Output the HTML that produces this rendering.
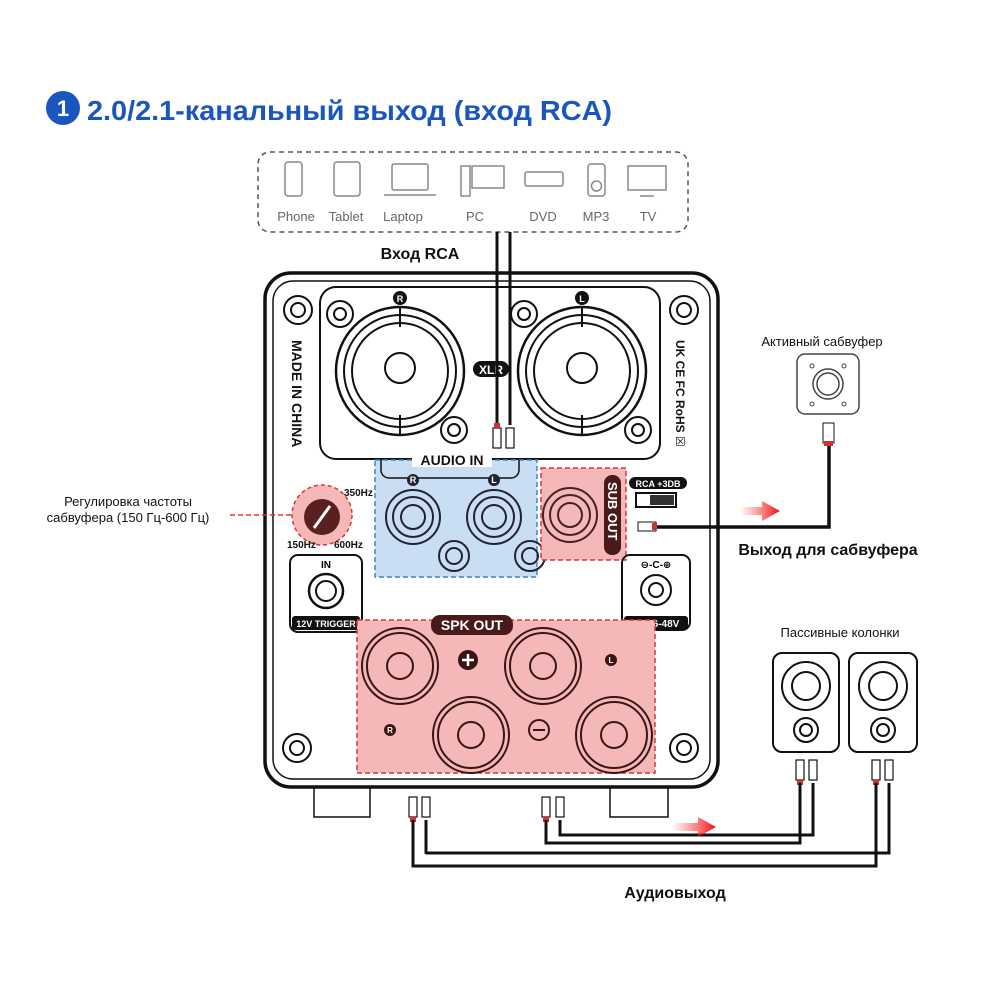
<!DOCTYPE html>
<html><head><meta charset="utf-8"><style>
html,body{margin:0;padding:0;background:#fff;}
svg{display:block;font-family:"Liberation Sans","DejaVu Sans",sans-serif;}
</style></head><body>
<svg width="1000" height="1000" viewBox="0 0 1000 1000" xmlns="http://www.w3.org/2000/svg">
<!-- title -->
<circle cx="63" cy="108" r="17" fill="#1a55c0"/>
<text x="63" y="116" font-size="22" font-weight="bold" fill="#fff" text-anchor="middle">1</text>
<text x="87" y="120" font-size="28" font-weight="bold" fill="#1a55c0" textLength="525" lengthAdjust="spacingAndGlyphs">2.0/2.1-канальный выход (вход RCA)</text>

<!-- device box -->
<rect x="258" y="152" width="430" height="80" rx="12" fill="none" stroke="#555" stroke-width="1.5" stroke-dasharray="5,4"/>
<g fill="none" stroke="#888" stroke-width="1.5">
<rect x="285" y="162" width="17" height="34" rx="3"/>
<rect x="334" y="162" width="26" height="34" rx="3"/>
<rect x="392" y="164" width="36" height="26" rx="2"/><path d="M384 195h52"/>
<rect x="461" y="166" width="9" height="30"/><rect x="472" y="166" width="32" height="22"/>
<rect x="525" y="172" width="38" height="14" rx="2"/>
<rect x="588" y="164" width="17" height="32" rx="3"/><circle cx="596.5" cy="186" r="5"/>
<rect x="628" y="166" width="38" height="24"/><path d="M640 196h14"/>
</g>
<g font-size="13" fill="#666" text-anchor="middle">
<text x="296" y="221">Phone</text><text x="346" y="221">Tablet</text><text x="403" y="221">Laptop</text>
<text x="475" y="221">PC</text><text x="543" y="221">DVD</text><text x="596" y="221">MP3</text><text x="648" y="221">TV</text>
</g>
<text x="420" y="259" font-size="16" font-weight="bold" fill="#111" text-anchor="middle">Вход RCA</text>

<!-- main box -->
<rect x="265" y="273" width="453" height="514" rx="26" fill="#fff" stroke="#111" stroke-width="3.5"/>
<rect x="273" y="281" width="437" height="498" rx="20" fill="none" stroke="#111" stroke-width="1.5"/>
<!-- feet -->
<path d="M314 787v30h56v-30M610 787v30h58v-30" fill="none" stroke="#111" stroke-width="1.5"/>
<!-- screws -->
<g fill="none" stroke="#111" stroke-width="2">
<circle cx="298" cy="310" r="14"/><circle cx="298" cy="310" r="7"/>
<circle cx="684" cy="310" r="14"/><circle cx="684" cy="310" r="7"/>
<circle cx="297" cy="748" r="14"/><circle cx="297" cy="748" r="7"/>
<circle cx="684" cy="748" r="14"/><circle cx="684" cy="748" r="7"/>
</g>
<!-- XLR panel -->
<rect x="320" y="287" width="340" height="172" rx="16" fill="none" stroke="#111" stroke-width="2"/>
<g fill="none" stroke="#111" stroke-width="2">
<circle cx="340" cy="314" r="13"/><circle cx="340" cy="314" r="6"/>
<circle cx="454" cy="430" r="13"/><circle cx="454" cy="430" r="6"/>
<circle cx="524" cy="314" r="13"/><circle cx="524" cy="314" r="6"/>
<circle cx="638" cy="430" r="13"/><circle cx="638" cy="430" r="6"/>
<circle cx="400" cy="371" r="64" stroke-width="2.5"/><circle cx="400" cy="371" r="56"/><circle cx="400" cy="371" r="48"/>
<circle cx="582" cy="371" r="64" stroke-width="2.5"/><circle cx="582" cy="371" r="56"/><circle cx="582" cy="371" r="48"/>
<path d="M400 307v20M400 415v20M582 307v20M582 415v20"/>
<circle cx="400" cy="368" r="15"/><circle cx="582" cy="368" r="15"/>
</g>
<g fill="#111" font-weight="bold" text-anchor="middle">
<circle cx="400" cy="298" r="7"/><circle cx="582" cy="298" r="7"/>
<text x="400" y="302" font-size="9" fill="#fff">R</text><text x="582" y="302" font-size="9" fill="#fff">L</text>
<rect x="473" y="361" width="36" height="16" rx="8"/><text x="491" y="374" font-size="12" fill="#fff">XLR</text>
</g>
<text transform="translate(292,340) rotate(90)" font-size="14" font-weight="bold" fill="#111">MADE IN CHINA</text>
<text transform="translate(676,340) rotate(90)" font-size="12" font-weight="bold" fill="#111">UK CE FC RoHS ☒</text>

<!-- AUDIO IN blue -->
<rect x="375" y="460" width="162" height="117" fill="#c9def2" stroke="#3a8ad0" stroke-width="1.5" stroke-dasharray="5,3"/>
<path d="M381 460v10a8 8 0 0 0 8 8h122a8 8 0 0 0 8-8v-10" fill="none" stroke="#111" stroke-width="1.5"/>
<rect x="412" y="451" width="80" height="16" fill="#fff"/>
<text x="452" y="465" font-size="14" font-weight="bold" fill="#111" text-anchor="middle">AUDIO IN</text>
<g fill="none" stroke="#223" stroke-width="2">
<circle cx="413" cy="517" r="27"/><circle cx="413" cy="517" r="20"/><circle cx="413" cy="517" r="12"/>
<circle cx="494" cy="517" r="27"/><circle cx="494" cy="517" r="20"/><circle cx="494" cy="517" r="12"/>
<circle cx="454" cy="556" r="15"/><circle cx="454" cy="556" r="8"/>
<circle cx="530" cy="556" r="15"/><circle cx="530" cy="556" r="8"/>
</g>
<g fill="#223" font-weight="bold" font-size="9" text-anchor="middle">
<circle cx="413" cy="480" r="6"/><circle cx="494" cy="480" r="6"/>
<text x="413" y="483" fill="#fff">R</text><text x="494" y="483" fill="#fff">L</text>
</g>
<!-- SUB OUT -->
<rect x="541" y="468" width="85" height="92" fill="#f5b8b8" stroke="#d33" stroke-width="1.5" stroke-dasharray="5,3"/>
<g fill="none" stroke="#422" stroke-width="2">
<circle cx="570" cy="515" r="27"/><circle cx="570" cy="515" r="20"/><circle cx="570" cy="515" r="12"/>
</g>
<rect x="604" y="475" width="17" height="80" rx="8" fill="#4a1a1a"/>
<text transform="translate(608,482) rotate(90)" font-size="13" font-weight="bold" fill="#fff">SUB OUT</text>
<rect x="629" y="477" width="58" height="12" rx="6" fill="#111"/>
<text x="658" y="487" font-size="9" font-weight="bold" fill="#fff" text-anchor="middle">RCA +3DB</text>
<rect x="636" y="493" width="40" height="14" fill="none" stroke="#111" stroke-width="2"/><rect x="650" y="495" width="24" height="10" fill="#333"/>
<!-- sub cable -->
<path d="M655 527H829V440" fill="none" stroke="#111" stroke-width="3.5"/>
<rect x="638" y="522" width="18" height="9" fill="#fff" stroke="#111"/><rect x="652" y="523" width="5" height="7" fill="#c33"/>
<rect x="823" y="423" width="11" height="20" fill="#fff" stroke="#111"/><rect x="824" y="441" width="9" height="5" fill="#c33"/>
<!-- knob -->
<circle cx="322" cy="515" r="30" fill="#f5b8b8" stroke="#d33" stroke-width="1.5" stroke-dasharray="4,3"/>
<circle cx="322" cy="517" r="18" fill="#5a2020"/><path d="M314 528l16-22" stroke="#fff" stroke-width="3"/>
<path d="M230 515H292" stroke="#d33" stroke-width="1.5" stroke-dasharray="5,3"/>
<text x="344" y="496" font-size="10" font-weight="bold" fill="#111">350Hz</text>
<text x="287" y="548" font-size="10" font-weight="bold" fill="#111">150Hz</text>
<text x="334" y="548" font-size="10" font-weight="bold" fill="#111">600Hz</text>
<text x="128" y="506" font-size="13" fill="#111" text-anchor="middle">Регулировка частоты</text>
<text x="128" y="522" font-size="13" fill="#111" text-anchor="middle">сабвуфера (150 Гц-600 Гц)</text>
<!-- 12V trigger -->
<rect x="290" y="555" width="72" height="77" rx="8" fill="none" stroke="#111" stroke-width="2"/>
<text x="326" y="568" font-size="10" font-weight="bold" text-anchor="middle">IN</text>
<circle cx="326" cy="591" r="17" fill="none" stroke="#111" stroke-width="2.5"/><circle cx="326" cy="591" r="10" fill="none" stroke="#111" stroke-width="2"/>
<rect x="292" y="616" width="68" height="14" rx="3" fill="#111"/>
<text x="326" y="627" font-size="9" font-weight="bold" fill="#fff" text-anchor="middle">12V TRIGGER</text>
<!-- DC -->
<rect x="622" y="555" width="68" height="75" rx="8" fill="none" stroke="#111" stroke-width="2"/>
<text x="656" y="568" font-size="10" font-weight="bold" text-anchor="middle">⊖-C-⊕</text>
<circle cx="656" cy="590" r="15" fill="none" stroke="#111" stroke-width="2"/><circle cx="656" cy="590" r="7" fill="none" stroke="#111" stroke-width="2"/>
<rect x="624" y="616" width="64" height="14" rx="3" fill="#111"/>
<text x="656" y="627" font-size="10" font-weight="bold" fill="#fff" text-anchor="middle">DC36-48V</text>
<!-- SPK OUT -->
<rect x="357" y="620" width="298" height="153" fill="#f5b8b8" stroke="#d33" stroke-width="1.5" stroke-dasharray="5,3"/>
<rect x="431" y="615" width="82" height="20" rx="9" fill="#4a1a1a"/>
<text x="472" y="630" font-size="14" font-weight="bold" fill="#fff" text-anchor="middle">SPK OUT</text>
<g fill="none" stroke="#3a1515" stroke-width="2">
<circle cx="400" cy="666" r="38"/><circle cx="400" cy="666" r="33"/><circle cx="400" cy="666" r="13"/>
<circle cx="543" cy="666" r="38"/><circle cx="543" cy="666" r="33"/><circle cx="543" cy="666" r="13"/>
<circle cx="471" cy="735" r="38"/><circle cx="471" cy="735" r="33"/><circle cx="471" cy="735" r="13"/>
<circle cx="614" cy="735" r="38"/><circle cx="614" cy="735" r="33"/><circle cx="614" cy="735" r="13"/>
<circle cx="539" cy="730" r="10"/><path d="M533 730h12"/>
</g>
<circle cx="468" cy="660" r="10" fill="#3a1515"/><path d="M462 660h12M468 654v12" stroke="#fff" stroke-width="2.5"/>
<circle cx="611" cy="660" r="6" fill="#3a1515"/><text x="611" y="663" font-size="8" fill="#fff" font-weight="bold" text-anchor="middle">L</text>
<circle cx="390" cy="730" r="6" fill="#3a1515"/><text x="390" y="733" font-size="8" fill="#fff" font-weight="bold" text-anchor="middle">R</text>

<!-- input RCA cables -->
<path d="M497 232V425M510 232V425" stroke="#111" stroke-width="3"/>
<g fill="#fff" stroke="#111" stroke-width="1.2">
<rect x="493" y="428" width="8" height="20"/><rect x="506" y="428" width="8" height="20"/>
</g>
<rect x="494" y="423" width="6" height="5" fill="#c33"/>

<!-- bottom cables -->
<g fill="#fff" stroke="#111" stroke-width="1.2">
<rect x="409" y="797" width="8" height="20"/><rect x="422" y="797" width="8" height="20"/>
<rect x="542" y="797" width="8" height="20"/><rect x="556" y="797" width="8" height="20"/>
<rect x="796" y="760" width="8" height="20"/><rect x="809" y="760" width="8" height="20"/>
<rect x="872" y="760" width="8" height="20"/><rect x="885" y="760" width="8" height="20"/>
</g>
<rect x="410" y="817" width="6" height="5" fill="#c33"/><rect x="543" y="817" width="6" height="5" fill="#c33"/>
<rect x="797" y="780" width="6" height="5" fill="#c33"/><rect x="873" y="780" width="6" height="5" fill="#c33"/>
<g fill="none" stroke="#111" stroke-width="3">
<path d="M413 820V866H876V783"/><path d="M426 820V854"/><path d="M426 853H889V783"/>
<path d="M546 820V843H800V783"/><path d="M560 820V835H813V783"/>
</g>
<!-- arrows -->
<defs><linearGradient id="ga" x1="0" x2="1"><stop offset="0" stop-color="#f33" stop-opacity="0"/><stop offset="1" stop-color="#e11"/></linearGradient></defs>
<path d="M740 507h22v-6l18 10-18 10v-6h-22z" fill="url(#ga)"/>
<path d="M672 823h26v-6l18 10-18 10v-6h-26z" fill="url(#ga)"/>

<!-- subwoofer -->
<text x="822" y="346" font-size="13" fill="#111" text-anchor="middle">Активный сабвуфер</text>
<rect x="797" y="354" width="62" height="60" rx="8" fill="none" stroke="#444" stroke-width="1.5"/>
<circle cx="828" cy="384" r="15" fill="none" stroke="#444" stroke-width="1.5"/><circle cx="828" cy="384" r="11" fill="none" stroke="#444" stroke-width="1.5"/>
<g fill="none" stroke="#444"><circle cx="812" cy="366" r="2"/><circle cx="844" cy="366" r="2"/><circle cx="812" cy="404" r="2"/><circle cx="844" cy="404" r="2"/></g>
<text x="828" y="555" font-size="16" font-weight="bold" fill="#111" text-anchor="middle">Выход для сабвуфера</text>

<!-- passive speakers -->
<text x="840" y="637" font-size="13" fill="#111" text-anchor="middle">Пассивные колонки</text>
<g fill="none" stroke="#111" stroke-width="2">
<rect x="773" y="653" width="66" height="99" rx="9"/><rect x="849" y="653" width="68" height="99" rx="9"/>
<circle cx="806" cy="686" r="24"/><circle cx="806" cy="686" r="14"/>
<circle cx="806" cy="730" r="12"/><circle cx="806" cy="730" r="6"/>
<circle cx="883" cy="686" r="24"/><circle cx="883" cy="686" r="14"/>
<circle cx="883" cy="730" r="12"/><circle cx="883" cy="730" r="6"/>
</g>
<text x="675" y="898" font-size="16" font-weight="bold" fill="#111" text-anchor="middle">Аудиовыход</text>
</svg>
</body></html>
